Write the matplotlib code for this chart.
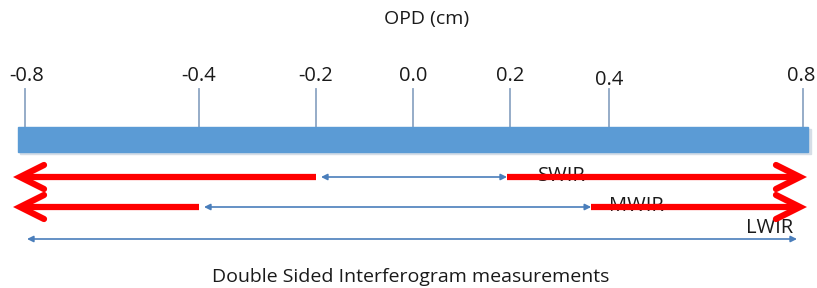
import numpy as np
import matplotlib

matplotlib.use("Agg")
import matplotlib.pyplot as plt

plt.rcParams["font.family"] = ["Open Sans", "DejaVu Sans"]

# OPD axis of the diagram (not linear in the original drawing)
tick_values = [-0.8, -0.4, -0.2, 0.0, 0.2, 0.4, 0.8]
tick_labels = ["-0.8", "-0.4", "-0.2", "0.0", "0.2", "0.4", "0.8"]
tick_pos = [25, 199, 316, 413, 510, 609, 803]  # layout of the drawn scale

# bands: measured (blue) span and red extension to full OPD
bands = ["SWIR", "MWIR", "LWIR"]
band_lo = [-0.2, -0.4, -0.8]
band_hi = [0.2, 0.37, 0.8]
band_extended = [True, True, False]

BAR_COLOR = "#5B9BD5"
TICK_COLOR = "#8EA6C4"
ARROW_BLUE = "#4A7EBB"
RED = "#FF0000"
TXT = "#1A1A1A"


def px(v):
    return np.interp(v, tick_values, tick_pos)


fig = plt.figure(figsize=(8.17, 2.88), dpi=100)
ax = fig.add_axes([0, 0, 1, 1])
ax.set_xlim(0, 817)
ax.set_ylim(288, 0)
ax.axis("off")

ax.text(427, 19, "OPD (cm)", ha="center", va="center", fontsize=14, color=TXT)

# bar with faint shadow
ax.add_patch(plt.Rectangle((20, 129), 791, 25, color="#D6DDE6", zorder=1))
ax.add_patch(plt.Rectangle((18, 127), 790, 25, color=BAR_COLOR, zorder=2))

for v, lab in zip(tick_values, tick_labels):
    x = px(v)
    ax.plot([x, x], [89, 127], color=TICK_COLOR, lw=1.3, zorder=1)
    y = 80 if lab == "0.4" else 76
    dx = 2 if v == tick_values[0] else (-2 if v == tick_values[-1] else 0)
    ax.text(x + dx, y, lab, ha="center", va="center", fontsize=14.5, color=TXT)

rows_y = [177, 207, 239]
left_end = 20
right_end = 800


def chevron(x_tip, y, direction):
    d = 24 * direction
    ax.plot([x_tip + d, x_tip, x_tip + d], [y - 12, y, y + 12], color=RED,
            lw=4.5, solid_capstyle="round", solid_joinstyle="miter", zorder=4)


for name, lo, hi, ext, y in zip(bands, band_lo, band_hi, band_extended, rows_y):
    x0, x1 = px(lo), px(hi)
    if ext:
        x0 += 5
        x1 -= 3
    else:
        x0 += 2
        x1 -= 6
    ax.annotate("", xy=(x1, y), xytext=(x0, y),
                arrowprops=dict(arrowstyle="<|-|>", color=ARROW_BLUE, lw=1.2,
                                mutation_scale=9, shrinkA=0, shrinkB=0),
                zorder=2)
    if ext:
        ax.plot([left_end + 3, px(lo)], [y, y], color=RED, lw=4.5,
                solid_capstyle="butt", zorder=4)
        ax.plot([px(hi) - 3, right_end - 3], [y, y], color=RED, lw=4.5,
                solid_capstyle="butt", zorder=4)
        chevron(left_end, y, 1)
        chevron(right_end, y, -1)

ax.text(562, 176, "SWIR", ha="center", va="center", fontsize=14.5, color=TXT, zorder=3)
ax.text(636, 206, "MWIR", ha="center", va="center", fontsize=14.5, color=TXT, zorder=3)
ax.text(770, 228, "LWIR", ha="center", va="center", fontsize=14.5, color=TXT, zorder=3)

ax.text(411, 277, "Double Sided Interferogram measurements", ha="center",
        va="center", fontsize=14, color=TXT)

fig.savefig("out.png", dpi=100)
